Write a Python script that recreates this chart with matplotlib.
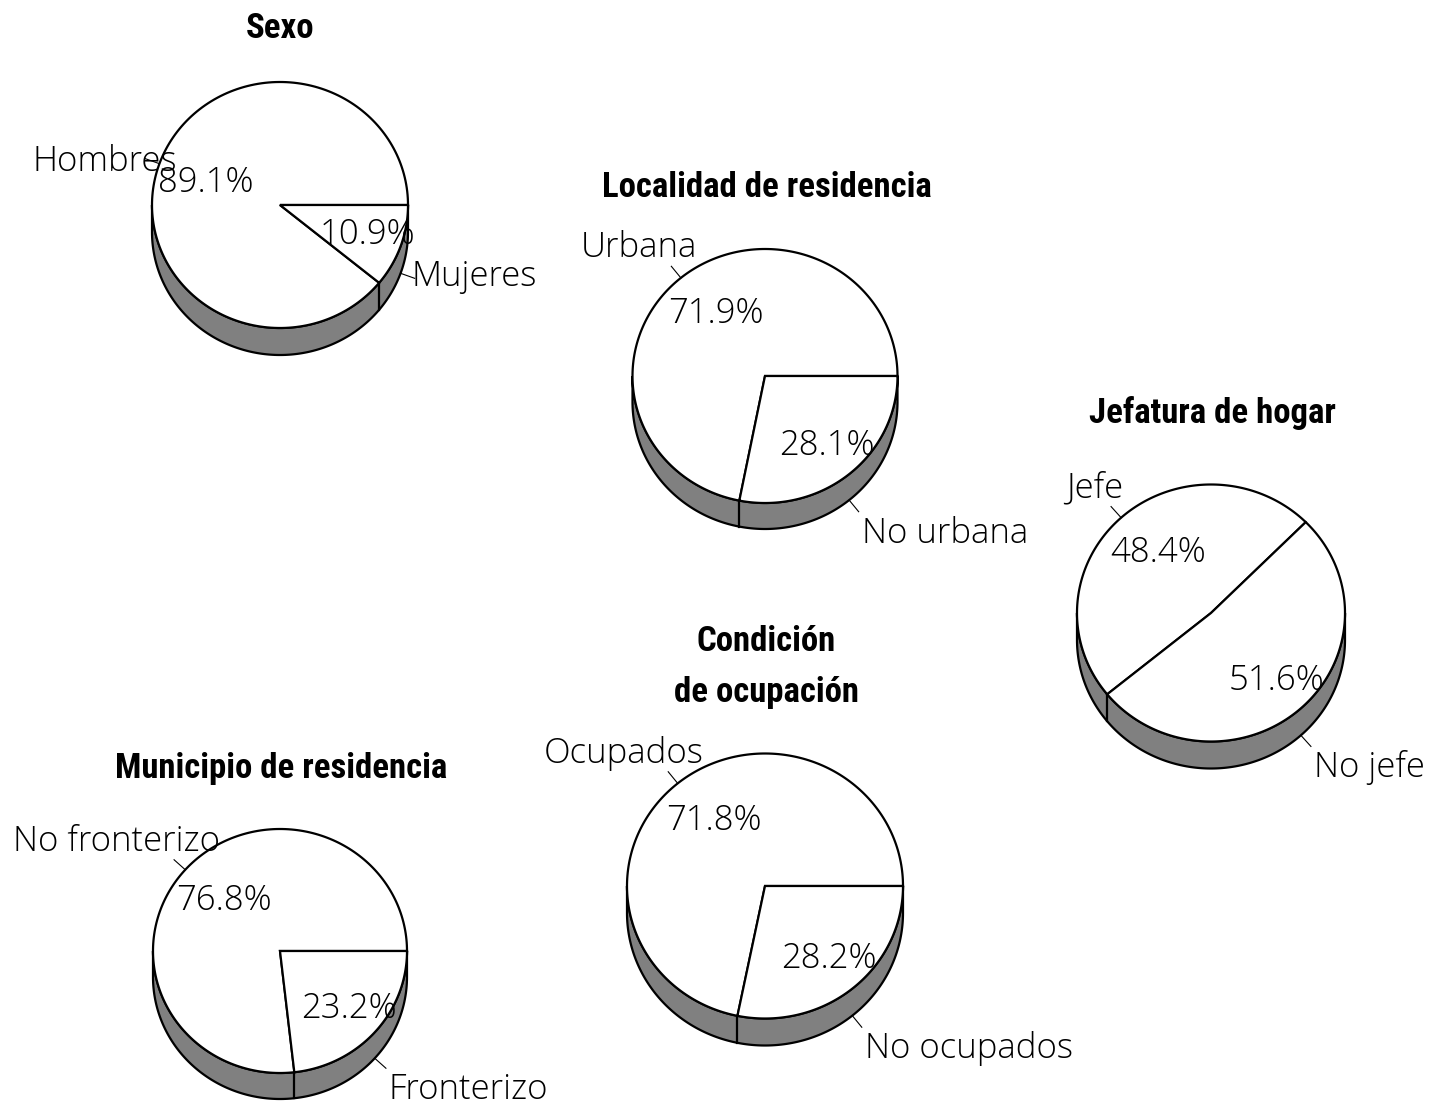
import numpy as np
import matplotlib
matplotlib.use("Agg")
import matplotlib.pyplot as plt
from matplotlib.patches import Polygon
from matplotlib import font_manager as fm

# ---------------- data ----------------
sexo_labels = ["Hombres", "Mujeres"]
sexo_values = [89.1, 10.9]
localidad_labels = ["Urbana", "No urbana"]
localidad_values = [71.9, 28.1]
jefatura_labels = ["Jefe", "No jefe"]
jefatura_values = [48.4, 51.6]
ocupacion_labels = ["Ocupados", "No ocupados"]
ocupacion_values = [71.8, 28.2]
municipio_labels = ["No fronterizo", "Fronterizo"]
municipio_values = [76.8, 23.2]
titles = ["Sexo", "Localidad de residencia", "Jefatura de hogar",
          "Condición\nde ocupación", "Municipio de residencia"]

# ---------------- layout (pixels) ----------------
W, H = 1446, 1109
layout = [
    dict(c=(280, 205), rx=128, ry=123, depth=27, start=0, title=(280, 38)),
    dict(c=(765, 376), rx=132.5, ry=127, depth=26, start=0, title=(767, 197)),
    dict(c=(1211, 613), rx=134, ry=128.5, depth=27, start=45, title=(1212, 423)),
    dict(c=(765, 886), rx=138, ry=132.5, depth=27, start=0, title=(766, 651)),
    dict(c=(280, 951), rx=127, ry=122, depth=26, start=0, title=(281, 778)),
]
TITLE_LINE_GAP = 51
pies = [(sexo_labels, sexo_values), (localidad_labels, localidad_values),
        (jefatura_labels, jefatura_values), (ocupacion_labels, ocupacion_values),
        (municipio_labels, municipio_values)]

LABEL_FONT = dict(family=["Open Sans", "DejaVu Sans"], weight="light", size=25)


def pick_title_font():
    for fam, stretch in [("Roboto Condensed", "normal"),
                         ("Liberation Sans Narrow", "normal"),
                         ("DejaVu Sans", "condensed")]:
        try:
            path = fm.findfont(fm.FontProperties(family=fam, weight="bold",
                                                 stretch=stretch),
                               fallback_to_default=False)
            name = fm.FontProperties(fname=path).get_name()
            if stretch == "condensed" and "Condensed" not in path:
                continue
            if fam.split()[0] in name or fam in path:
                return dict(family=[fam], weight="bold", stretch=stretch), True
        except Exception:
            continue
    return dict(family=["Liberation Sans", "DejaVu Sans"], weight="bold"), False


TITLE_FONT, condensed = pick_title_font()
SIDE = "#808080"
LW = 1.6

fig = plt.figure(figsize=(W / 100, H / 100), dpi=100)
ax = fig.add_axes([0, 0, 1, 1])
ax.set_xlim(0, W)
ax.set_ylim(H, 0)
ax.axis("off")
renderer = fig.canvas.get_renderer()

# title size: fit "Localidad de residencia" to ~329 px wide
probe = ax.text(0, 0, titles[1], size=20, **TITLE_FONT)
pw = probe.get_window_extent(renderer).width
probe.remove()
title_size = min(27, 20 * 329.0 / pw)


def pt(c, rx, ry, a, dy=0.0):
    r = np.deg2rad(a)
    return c[0] + rx * np.cos(r), c[1] - ry * np.sin(r) + dy


for (labels, values), lay, title in zip(pies, layout, titles):
    c, rx, ry, d, start = lay["c"], lay["rx"], lay["ry"], lay["depth"], lay["start"]
    vals = np.asarray(values, dtype=float)
    angs = start + np.concatenate([[0], np.cumsum(vals)]) / vals.sum() * 360.0

    # side (front half)
    t = np.linspace(180, 360, 200)
    top = np.array([pt(c, rx, ry, a) for a in t])
    bot = np.array([pt(c, rx, ry, a, d) for a in t[::-1]])
    ax.add_patch(Polygon(np.vstack([top, bot]), closed=True, facecolor=SIDE,
                         edgecolor="black", lw=LW, zorder=1))
    for b in angs[:-1]:
        bm = b % 360
        if 180 < bm < 360:
            x0, y0 = pt(c, rx, ry, bm)
            ax.plot([x0, x0], [y0, y0 + d], color="black", lw=LW, zorder=2)

    # top face wedges
    for a1, a2 in zip(angs[:-1], angs[1:]):
        arc = np.array([pt(c, rx, ry, a) for a in np.linspace(a1, a2, 200)])
        poly = np.vstack([[c], arc])
        ax.add_patch(Polygon(poly, closed=True, facecolor="white",
                             edgecolor="black", lw=LW, joinstyle="miter", zorder=3))

    # labels
    for lab, v, a1, a2 in zip(labels, vals, angs[:-1], angs[1:]):
        m = (a1 + a2) / 2.0
        cm, sm = np.cos(np.deg2rad(m)), np.sin(np.deg2rad(m))
        # percentage inside
        px, py = pt(c, 0.7 * rx, 0.7 * ry, m)
        pdx = 10 if cm < 0 else 3
        pdy = 16 if sm > 0 else 10
        ax.text(px + pdx, py + pdy, f"{v:.1f}%", ha="center", va="baseline",
                zorder=5, **LABEL_FONT)
        # leader line + category
        sx, sy = pt(c, rx, ry, m, d if sm < 0 else 0)
        ex, ey = sx + 15 * cm, sy - 15 * sm
        ax.plot([sx, ex], [sy, ey], color="black", lw=0.8, zorder=4)
        txt = ax.text(0, 0, lab, ha="center", va="baseline", zorder=5, **LABEL_FONT)
        w = txt.get_window_extent(renderer).width
        if abs(sm) > 0.5:
            dx = -0.28 * w if cm < 0 else 0.5 * w + 3
            dy = -21 if sm > 0 else 19
        else:
            dx = -0.28 * w if cm < 0 else 0.5 * w - 3
            dy = 0 if cm < 0 else -4
        txt.set_position((ex + dx, ey + dy + 12))

    # title
    tx, ty = lay["title"]
    for i, line in enumerate(title.split("\n")):
        ax.text(tx, ty + i * TITLE_LINE_GAP, line, ha="center", va="baseline",
                size=title_size, **TITLE_FONT)

fig.savefig("out.png", dpi=100, facecolor="white")
